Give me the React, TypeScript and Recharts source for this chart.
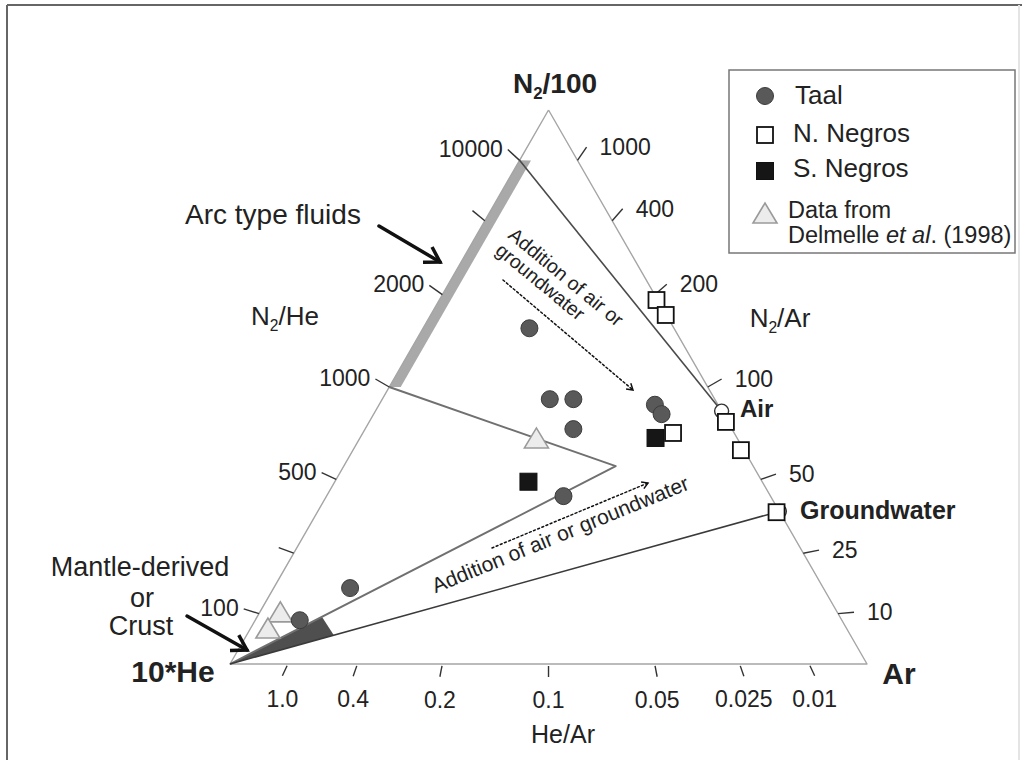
import React from 'react'
import { ScatterChart, Scatter, XAxis, YAxis } from 'recharts'

// compositions are [N2/100, 10*He, Ar], any positive scale (normalised in toXY)
type Comp = [number, number, number]

const taalComps: Comp[] = [
  [60.6, 22.7, 16.7],
  [47.8, 25.9, 26.3],
  [47.8, 22.2, 30.0],
  [42.4, 24.9, 32.7],
  [46.8, 9.9, 43.3],
  [45.1, 9.7, 45.2],
  [30.3, 32.5, 37.2],
  [13.7, 74.3, 12.0],
  [7.9, 85.1, 7.0],
]

const nNegrosComps: Comp[] = [
  [65.7, 0.2, 34.1],
  [63.0, 0.1, 36.9],
  [43.7, 0.3, 56.0],
  [38.6, 0.5, 60.9],
  [27.4, 0.5, 72.1],
  [41.7, 9.6, 48.7],
]

const sNegrosComps: Comp[] = [
  [40.8, 12.8, 46.4],
  [32.9, 36.7, 30.4],
]

const delmelleComps: Comp[] = [
  [40.8, 31.5, 27.7],
  [9.4, 87.4, 3.2],
  [6.5, 90.8, 2.7],
]

// end-members (N2/Ar of air = 84, air-saturated water = 38)
const airComp: Comp = [84, 0, 100]
const groundwaterComp: Comp = [38, 0, 100]
const apexN2: Comp = [100, 0, 0]
const apexHe: Comp = [0, 100, 0]
const apexAr: Comp = [0, 0, 100]
const arcLow: Comp = [1000, 1000, 0] // N2/He = 1000
const arcHigh: Comp = [10000, 1000, 0] // N2/He = 10000
const arcInnerHigh: Comp = [90.9, 7.3, 1.8]
const arcInnerLow: Comp = [50, 48.2, 1.8]
const mixKink: Comp = [35.7, 21.6, 42.7]
const wedgeTop: Comp = [8.5, 81.3, 10.2]
const wedgeBottom: Comp = [5.2, 81.1, 13.7]

// axis ticks (ratios along each edge)
const n2HeTicks = [10000, 4000, 2000, 1000, 500, 250, 100]
const n2HeLabels = ['10000', '', '2000', '1000', '500', '', '100']
const n2ArTicks = [1000, 400, 200, 100, 50, 25, 10]
const n2ArLabels = ['1000', '400', '200', '100', '50', '25', '10']
const heArTicks = [1.0, 0.4, 0.2, 0.1, 0.05, 0.025, 0.01]
const heArLabels = ['1.0', '0.4', '0.2', '0.1', '0.05', '0.025', '0.01']

const FONT = '"Liberation Sans", Arial, Helvetica, sans-serif'
const SQ = Math.sqrt(3) / 2

const toXY = ([n, h, a]: Comp) => {
  const s = n + h + a
  return { x: (a + n / 2) / s, y: (n / s) * SQ }
}

const pts = (cs: Comp[]) => cs.map(toXY)

type Side = 'left' | 'right' | 'bottom'

// tick points, with the direction pointing away from the opposite apex
const tickData = (side: Side, values: number[], labels: string[]) =>
  values.map((v, i) => {
    let p
    let o
    if (side === 'left') {
      p = toXY([v, 1000, 0])
      o = toXY(apexAr)
    } else if (side === 'right') {
      p = toXY([v, 0, 100])
      o = toXY(apexHe)
    } else {
      p = toXY([0, 10 * v, 1])
      o = toXY(apexN2)
    }
    return { ...p, dx: p.x - o.x, dy: p.y - o.y, label: labels[i] }
  })

const makeTick = (side: Side) => (props: any) => {
  const { cx, cy, payload } = props
  const len = Math.hypot(payload.dx, payload.dy)
  let ux = payload.dx / len
  let uy = -payload.dy / len
  if (side === 'left') {
    // left ticks lean a little towards the edge normal
    ux = (ux - 0.866) / 2
    uy = (uy - 0.5) / 2
    const n = Math.hypot(ux, uy)
    ux /= n
    uy /= n
  }
  const gap = side === 'bottom' ? 2 : 0
  const L = side === 'bottom' ? 11 : 16
  const x2 = cx + ux * (gap + L)
  const y2 = cy + uy * (gap + L)
  let tx = x2
  let ty = y2
  let anchor: 'start' | 'middle' | 'end' = 'middle'
  if (side === 'left') {
    tx = x2 - 5
    ty = y2 + 7
    anchor = 'end'
  } else if (side === 'right') {
    tx = x2 + 13
    ty = y2 + 8
    anchor = 'start'
  } else {
    ty = y2 + 31
  }
  return (
    <g>
      <line x1={cx + ux * gap} y1={cy + uy * gap} x2={x2} y2={y2} stroke="#333" strokeWidth={1.4} />
      {payload.label ? (
        <text x={tx} y={ty} textAnchor={anchor} fontSize={23} fontFamily={FONT} fill="#222">
          {payload.label}
        </text>
      ) : null}
    </g>
  )
}

const noDot = () => <g />

const linePath = (stroke: string, width: number) => (p: any) => {
  const d = (p.points as { x: number; y: number }[])
    .map((q, i) => `${i ? 'L' : 'M'}${q.x},${q.y}`)
    .join(' ')
  return <path d={d} fill="none" stroke={stroke} strokeWidth={width} strokeLinejoin="round" />
}

const polyFill = (fill: string) => (p: any) => (
  <polygon
    points={(p.points as { x: number; y: number }[]).map((q) => `${q.x},${q.y}`).join(' ')}
    fill={fill}
    stroke="none"
  />
)

// marker glyphs
const Circle = ({ cx, cy }: any) => <circle cx={cx} cy={cy} r={8.5} fill="#595959" stroke="#3c3c3c" strokeWidth={1} />
const OpenSquare = ({ cx, cy }: any) => (
  <rect x={cx - 8} y={cy - 8} width={16} height={16} fill="#fff" stroke="#111" strokeWidth={1.8} />
)
const FilledSquare = ({ cx, cy }: any) => (
  <rect x={cx - 8.5} y={cy - 8.5} width={17} height={17} fill="#161616" stroke="#111" strokeWidth={1} />
)
const Triangle = ({ cx, cy }: any) => (
  <polygon
    points={`${cx - 12},${cy + 10} ${cx + 12},${cy + 10} ${cx},${cy - 10}`}
    fill="#ececec"
    stroke="#9a9a9a"
    strokeWidth={1.6}
  />
)
const EndMember = ({ cx, cy }: any) => <circle cx={cx} cy={cy} r={7} fill="#fff" stroke="#333" strokeWidth={1.4} />

const Arrow = ({ x1, y1, x2, y2, w, head, dash }: any) => {
  const ang = Math.atan2(y2 - y1, x2 - x1)
  const a1 = ang + Math.PI - 0.55
  const a2 = ang + Math.PI + 0.55
  return (
    <g stroke="#111" strokeWidth={w} fill="none" strokeLinecap="round">
      <line x1={x1} y1={y1} x2={x2} y2={y2} strokeDasharray={dash} />
      <polyline
        points={`${x2 + head * Math.cos(a1)},${y2 + head * Math.sin(a1)} ${x2},${y2} ${
          x2 + head * Math.cos(a2)
        },${y2 + head * Math.sin(a2)}`}
        strokeLinecap="butt"
      />
    </g>
  )
}

const Sub2 = () => (
  <tspan fontSize="60%" dy={6}>
    2
  </tspan>
)

export default function App() {
  const W = 1022
  const H = 760
  return (
    <div style={{ position: 'absolute', left: 0, top: 0, width: W, height: H, background: '#fff' }}>
      <ScatterChart width={W} height={H} margin={{ top: 0, right: 0, bottom: 0, left: 0 }}>
        <XAxis type="number" dataKey="x" domain={[-0.3611, 1.2433]} allowDataOverflow hide />
        <YAxis type="number" dataKey="y" domain={[-0.1501, 1.038]} allowDataOverflow hide />

        {/* arc-type band and mantle/crust wedge */}
        <Scatter
          data={pts([arcLow, arcHigh, arcInnerHigh, arcInnerLow])}
          shape={noDot}
          line={polyFill('#a9a9a9')}
          isAnimationActive={false}
        />
        <Scatter
          data={pts([apexHe, wedgeTop, wedgeBottom])}
          shape={noDot}
          line={polyFill('#4f4f4f')}
          isAnimationActive={false}
        />

        {/* triangle frame */}
        <Scatter
          data={pts([apexN2, apexAr, apexHe, apexN2])}
          shape={noDot}
          line={linePath('#a5a5a5', 1.4)}
          isAnimationActive={false}
        />

        {/* mixing lines */}
        <Scatter
          data={pts([arcLow, mixKink, apexHe])}
          shape={noDot}
          line={linePath('#707070', 1.9)}
          isAnimationActive={false}
        />
        <Scatter data={pts([arcHigh, airComp])} shape={noDot} line={linePath('#4a4a4a', 1.6)} isAnimationActive={false} />
        <Scatter
          data={pts([apexHe, groundwaterComp])}
          shape={noDot}
          line={linePath('#3a3a3a', 1.6)}
          isAnimationActive={false}
        />

        {/* edge ticks */}
        <Scatter data={tickData('left', n2HeTicks, n2HeLabels)} shape={makeTick('left')} isAnimationActive={false} />
        <Scatter data={tickData('right', n2ArTicks, n2ArLabels)} shape={makeTick('right')} isAnimationActive={false} />
        <Scatter data={tickData('bottom', heArTicks, heArLabels)} shape={makeTick('bottom')} isAnimationActive={false} />

        {/* samples */}
        <Scatter data={pts([airComp, groundwaterComp])} shape={EndMember} isAnimationActive={false} />
        <Scatter data={pts(delmelleComps)} shape={Triangle} isAnimationActive={false} />
        <Scatter data={pts(taalComps)} shape={Circle} isAnimationActive={false} />
        <Scatter data={pts(sNegrosComps)} shape={FilledSquare} isAnimationActive={false} />
        <Scatter data={pts(nNegrosComps)} shape={OpenSquare} isAnimationActive={false} />
      </ScatterChart>

      <svg
        width={W}
        height={H}
        style={{ position: 'absolute', left: 0, top: 0, pointerEvents: 'none' }}
        fontFamily={FONT}
        fill="#222"
      >
        {/* frame */}
        <line x1={7} y1={5} x2={W} y2={5} stroke="#666" strokeWidth={2} />
        <line x1={7} y1={5} x2={7} y2={H} stroke="#666" strokeWidth={2} />
        <line x1={1019} y1={5} x2={1019} y2={H} stroke="#e4e4e4" strokeWidth={2} />

        {/* legend */}
        <rect x={729} y={70} width={286} height={183} fill="none" stroke="#777" strokeWidth={1.5} />
        <Circle cx={765} cy={96} />
        <text x={795} y={104} fontSize={26}>
          Taal
        </text>
        <OpenSquare cx={765} cy={135} />
        <text x={793} y={142} fontSize={26}>
          N. Negros
        </text>
        <FilledSquare cx={765} cy={171} />
        <text x={793} y={177} fontSize={26}>
          S. Negros
        </text>
        <Triangle cx={765} cy={213} />
        <text x={788} y={218} fontSize={23.5}>
          Data from
        </text>
        <text x={788} y={243} fontSize={23.5}>
          Delmelle <tspan fontStyle="italic">et al</tspan>. (1998)
        </text>

        {/* apex and axis titles */}
        <text x={555} y={93} fontSize={28} fontWeight="bold" textAnchor="middle">
          N<Sub2 />
          <tspan dy={-6}>/100</tspan>
        </text>
        <text x={285} y={325} fontSize={26} textAnchor="middle">
          N<Sub2 />
          <tspan dy={-6}>/He</tspan>
        </text>
        <text x={780} y={327} fontSize={26} textAnchor="middle">
          N<Sub2 />
          <tspan dy={-6}>/Ar</tspan>
        </text>
        <text x={173} y={682} fontSize={30} fontWeight="bold" textAnchor="middle">
          10*He
        </text>
        <text x={899} y={684} fontSize={30} fontWeight="bold" textAnchor="middle">
          Ar
        </text>
        <text x={563} y={743} fontSize={25} textAnchor="middle">
          He/Ar
        </text>
        <text x={740} y={417} fontSize={24} fontWeight="bold">
          Air
        </text>
        <text x={800} y={519} fontSize={25} fontWeight="bold">
          Groundwater
        </text>

        {/* annotations */}
        <text x={273} y={224} fontSize={28} textAnchor="middle">
          Arc type fluids
        </text>
        <Arrow x1={379} y1={226} x2={440} y2={262} w={3.5} head={17} />
        <text x={140} y={576} fontSize={27} textAnchor="middle">
          Mantle-derived
        </text>
        <text x={142} y={607} fontSize={27} textAnchor="middle">
          or
        </text>
        <text x={141} y={635} fontSize={27} textAnchor="middle">
          Crust
        </text>
        <Arrow x1={187} y1={616} x2={247} y2={650} w={3.5} head={17} />

        <g transform="translate(507,237) rotate(39.5)">
          <text x={0} y={0} fontSize={19.5}>
            Addition of air or
          </text>
          <text x={0} y={20} fontSize={19.5}>
            groundwater
          </text>
        </g>
        <Arrow x1={503} y1={280} x2={633} y2={390} w={1.5} head={7} dash="2 2.5" />

        <text x={563} y={541} fontSize={21} textAnchor="middle" transform="rotate(-22.3 563 541)">
          Addition of air or groundwater
        </text>
        <Arrow x1={492} y1={548} x2={648} y2={483} w={1.5} head={7} dash="2 2.5" />
      </svg>
    </div>
  )
}
